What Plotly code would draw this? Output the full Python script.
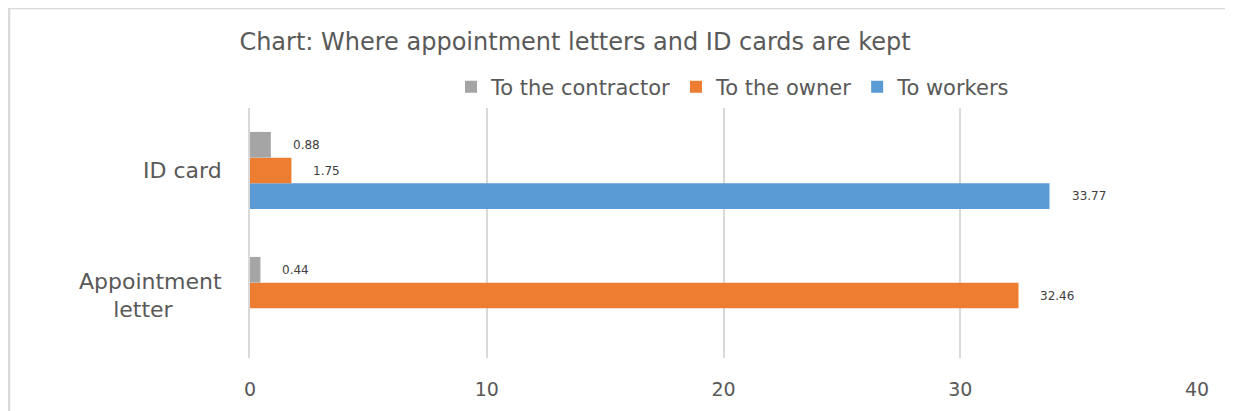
import plotly.graph_objects as go

# ---- data ----
categories = ["Appointment letter", "ID card"]
category_labels = ["Appointment<br>letter\u00a0\u00a0\u00a0\u00a0\u00a0\u00a0\u00a0", "ID card"]
series_names = ["To workers", "To the owner", "To the contractor"]
to_workers = [None, 33.77]
to_owner = [32.46, 1.75]
to_contractor = [0.44, 0.88]
series_values = [to_workers, to_owner, to_contractor]
series_colors = ["#5B9BD5", "#ED7D31", "#A5A5A5"]
x_ticks = [0, 10, 20, 30, 40]
title_text = "Chart: Where appointment letters and ID cards are kept"

BARGAP = 0.383
FONT = "DejaVu Sans"
TXT = "#595959"
GRID = "#D9D9D9"

W, H = 1225, 403
L, T = 242, 100
PW, PH = 947, 250

y_idx = list(range(len(categories)))
fig = go.Figure()
for name, vals, col in zip(series_names, series_values, series_colors):
    fig.add_trace(go.Bar(
        x=vals, y=y_idx, orientation="h", name=name,
        marker=dict(color=col, line=dict(width=0)),
    ))

# data labels
n = len(series_names)
w = (1 - BARGAP) / n
annotations = []
for i, vals in enumerate(series_values):
    for j, v in enumerate(vals):
        if v is None:
            continue
        annotations.append(dict(
            x=v, y=j + (i - (n - 1) / 2) * w, xref="x", yref="y",
            text=f"{v:.2f}", showarrow=False, xanchor="left", yanchor="middle",
            xshift=20, font=dict(family=FONT, size=12, color="#404040"),
        ))

fig.update_layout(
    width=W, height=H,
    margin=dict(l=L, r=W - L - PW, t=T, b=H - T - PH, pad=0),
    paper_bgcolor="white", plot_bgcolor="white",
    barmode="group", bargap=BARGAP, bargroupgap=0,
    font=dict(family=FONT, color=TXT),
    title=dict(text=title_text, x=567 / W, xanchor="center", xref="container",
               y=1 - 34 / H, yanchor="middle", yref="container",
               font=dict(family=FONT, size=24, color=TXT)),
    legend=dict(orientation="h", traceorder="reversed",
                x=(733 - 8 - L) / PW, xanchor="center", y=1 + 21 / PH, yanchor="middle",
                font=dict(family=FONT, size=21, color=TXT),
                itemwidth=30, bgcolor="rgba(0,0,0,0)"),
    annotations=annotations,
    xaxis=dict(range=[0, 40], tickvals=x_ticks, showgrid=True, gridcolor=GRID,
               gridwidth=2, zeroline=False, showline=False, ticks="",
               tickfont=dict(family=FONT, size=19, color=TXT),
               ticklabelstandoff=18, fixedrange=True),
    yaxis=dict(range=[-0.5, 1.5], tickvals=y_idx, ticktext=category_labels,
               showgrid=False, zeroline=False, showline=True, linecolor=GRID,
               linewidth=2, ticks="",
               tickfont=dict(family=FONT, size=22, color=TXT),
               ticklabelstandoff=22, fixedrange=True),
    shapes=[dict(type="rect", xref="paper", yref="paper",
                 x0=(1 - L) / PW, x1=(W + 20 - L) / PW,
                 y0=(T + PH - H - 20) / PH, y1=(T + PH - 0) / PH,
                 line=dict(color=GRID, width=2.5), fillcolor="rgba(0,0,0,0)",
                 layer="below")],
)

fig.write_html("out.html")
